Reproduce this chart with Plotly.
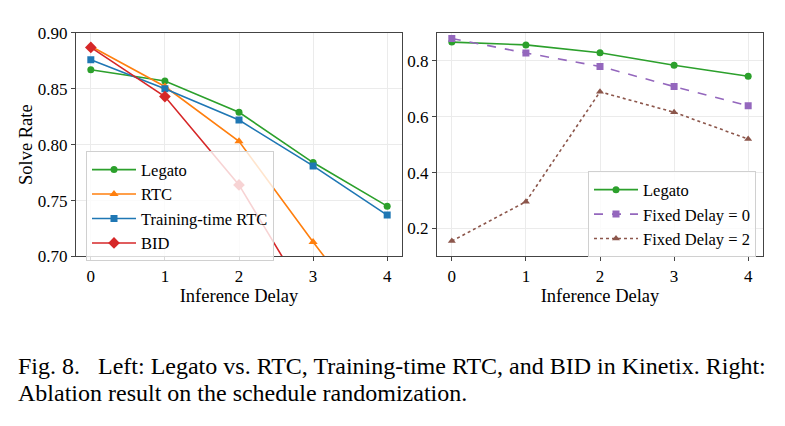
import plotly.graph_objects as go

delays = [0, 1, 2, 3, 4]

# Left panel
legato = [0.867, 0.857, 0.829, 0.784, 0.745]
rtc = [0.888, 0.852, 0.803, 0.713, 0.626]
tt_rtc = [0.876, 0.850, 0.822, 0.781, 0.737]
bid = [0.887, 0.843, 0.764, 0.654, 0.560]

# Right panel
legato_r = [0.867, 0.857, 0.829, 0.784, 0.745]
fixed0 = [0.880, 0.828, 0.780, 0.708, 0.639]
fixed2 = [0.155, 0.296, 0.689, 0.616, 0.520]

left_yticks = [0.70, 0.75, 0.80, 0.85, 0.90]
right_yticks = [0.2, 0.4, 0.6, 0.8]

GREEN, ORANGE, BLUE, RED, PURPLE, BROWN = "#2ca02c", "#ff7f0e", "#1f77b4", "#d62728", "#9467bd", "#8c564b"
FONT = "Liberation Serif"

fig = go.Figure()

def add(x, y, name, color, symbol, xa, ya, legend, dash="solid", size=7):
    fig.add_trace(go.Scatter(
        x=x, y=y, name=name, mode="lines+markers",
        line=dict(color=color, width=1.6, dash=dash),
        marker=dict(color=color, symbol=symbol, size=size),
        xaxis=xa, yaxis=ya, legend=legend,
    ))

add(delays, legato, "Legato", GREEN, "circle", "x", "y", "legend")
add(delays, rtc, "RTC", ORANGE, "triangle-up", "x", "y", "legend", size=8)
add(delays, tt_rtc, "Training-time RTC", BLUE, "square", "x", "y", "legend")
add(delays, bid, "BID", RED, "diamond", "x", "y", "legend", size=9)

add(delays, legato_r, "Legato", GREEN, "circle", "x2", "y2", "legend2")
add(delays, fixed0, "Fixed Delay = 0", PURPLE, "square", "x2", "y2", "legend2", dash="dash")
add(delays, fixed2, "Fixed Delay = 2", BROWN, "triangle-up", "x2", "y2", "legend2", dash="dot")

W, H = 785, 426
ytop, ybot = 1 - 25 / H, 1 - 259 / H

axis_common = dict(
    showline=True, mirror=True, linecolor="#444", linewidth=1,
    showgrid=True, gridcolor="#ebebeb", gridwidth=1,
    ticks="outside", ticklen=4, tickcolor="#444",
    tickfont=dict(family=FONT, size=17, color="black"),
    zeroline=False,
)
title_font = dict(family=FONT, size=18.5, color="black")
legend_common = dict(
    xanchor="left", yanchor="top",
    bgcolor="rgba(255,255,255,0.8)", bordercolor="#d0d0d0", borderwidth=1,
    font=dict(family=FONT, size=16.5, color="black"), tracegroupgap=0,
    itemwidth=44,
)

fig.update_layout(
    width=W, height=H,
    margin=dict(l=0, r=0, t=0, b=0),
    paper_bgcolor="white", plot_bgcolor="white",
    font=dict(family=FONT, color="black"),
    xaxis=dict(domain=[76 / W, 402 / W], range=[-0.2, 4.2], tickvals=delays,
               title=dict(text="Inference Delay", font=title_font, standoff=0),
               **axis_common),
    yaxis=dict(domain=[ybot, ytop], range=[0.70, 0.90], tickvals=left_yticks, tickformat=".2f",
               title=dict(text="Solve Rate", font=title_font, standoff=0),
               **axis_common),
    xaxis2=dict(domain=[437 / W, 763 / W], range=[-0.2, 4.2], tickvals=delays, anchor="y2",
                title=dict(text="Inference Delay", font=title_font, standoff=0),
                **axis_common),
    yaxis2=dict(domain=[ybot, ytop], range=[0.1, 0.9], tickvals=right_yticks, tickformat=".1f",
                anchor="x2", **axis_common),
    legend=dict(x=86 / W, y=1 - 149 / H, **legend_common),
    legend2=dict(x=588 / W, y=1 - 170 / H, **legend_common),
    annotations=[
        dict(text="Fig. 8.\u00a0\u00a0\u00a0Left: Legato vs. RTC, Training-time RTC, and BID in Kinetix. Right:",
             x=16 / W, y=1 - 374 / H, xref="paper", yref="paper", xanchor="left", yanchor="middle",
             showarrow=False, font=dict(family=FONT, size=24, color="black")),
        dict(text="Ablation result on the schedule randomization.",
             x=16 / W, y=1 - 402 / H, xref="paper", yref="paper", xanchor="left", yanchor="middle",
             showarrow=False, font=dict(family=FONT, size=24, color="black")),
    ],
)

fig.write_html("out.html")
